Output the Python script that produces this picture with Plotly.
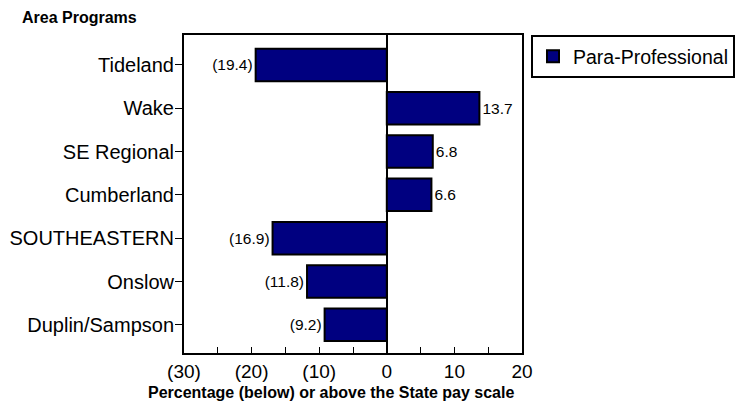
import plotly.graph_objects as go

categories = ["Tideland", "Wake", "SE Regional", "Cumberland", "SOUTHEASTERN", "Onslow", "Duplin/Sampson"]
values = [-19.4, 13.7, 6.8, 6.6, -16.9, -11.8, -9.2]
xtick_vals = [-30, -20, -10, 0, 10, 20]
xtick_text = ["(30)", "(20)", "(10)", "0", "10", "20"]
series_name = "Para-Professional"

labels = [f"({abs(v):.1f})" if v < 0 else f"{v:.1f}" for v in values]

FONT = "Liberation Sans, Arial, sans-serif"

fig = go.Figure()
fig.add_trace(go.Bar(
    y=categories, x=values, orientation="h", name=series_name,
    marker=dict(color="#000080", line=dict(color="black", width=2)),
    width=0.75, text=labels, textposition="outside", constraintext="none",
    textfont=dict(size=15.5, color="black", family=FONT),
    cliponaxis=False, showlegend=True,
))

fig.update_layout(
    width=736, height=411,
    margin=dict(l=184, r=214, t=35, b=58, autoexpand=False),
    paper_bgcolor="white", plot_bgcolor="white",
    font=dict(family=FONT, size=19, color="black"),
    showlegend=True,
    legend=dict(x=(531 - 184) / 338, y=1, xanchor="left", yanchor="top",
                bordercolor="black", borderwidth=2,
                font=dict(size=19.5), itemwidth=30,
                tracegroupgap=0),
    bargap=0.25,
)
fig.update_xaxes(
    range=[-30, 20], tickvals=xtick_vals, ticktext=xtick_text,
    ticks="inside", ticklen=6, tickcolor="black", tickwidth=1,
    minor=dict(dtick=5, tick0=0, ticks="inside", ticklen=6, tickcolor="black"),
    showline=True, linecolor="black", linewidth=2, mirror=True,
    showgrid=False, zeroline=True, zerolinecolor="black", zerolinewidth=2,
    tickfont=dict(size=19),
)
fig.update_yaxes(
    categoryorder="array", categoryarray=categories,
    range=[6.65, -0.69],
    ticks="outside", ticklen=7, tickcolor="black", tickwidth=1,
    showline=True, linecolor="black", linewidth=2, mirror=True,
    showgrid=False, tickfont=dict(size=20), ticklabelstandoff=-3,
)
fig.add_annotation(text="<b>Area Programs</b>", xref="paper", yref="paper",
                   x=(20 - 184) / 338, y=1, yshift=18, xanchor="left", yanchor="middle",
                   showarrow=False, font=dict(size=16))
fig.add_annotation(text="<b>Percentage (below) or above the State pay scale</b>",
                   xref="paper", yref="paper",
                   x=(331 - 184) / 338, y=0, yshift=-39, xanchor="center", yanchor="middle",
                   showarrow=False, font=dict(size=16))

fig.write_html("out.html")
